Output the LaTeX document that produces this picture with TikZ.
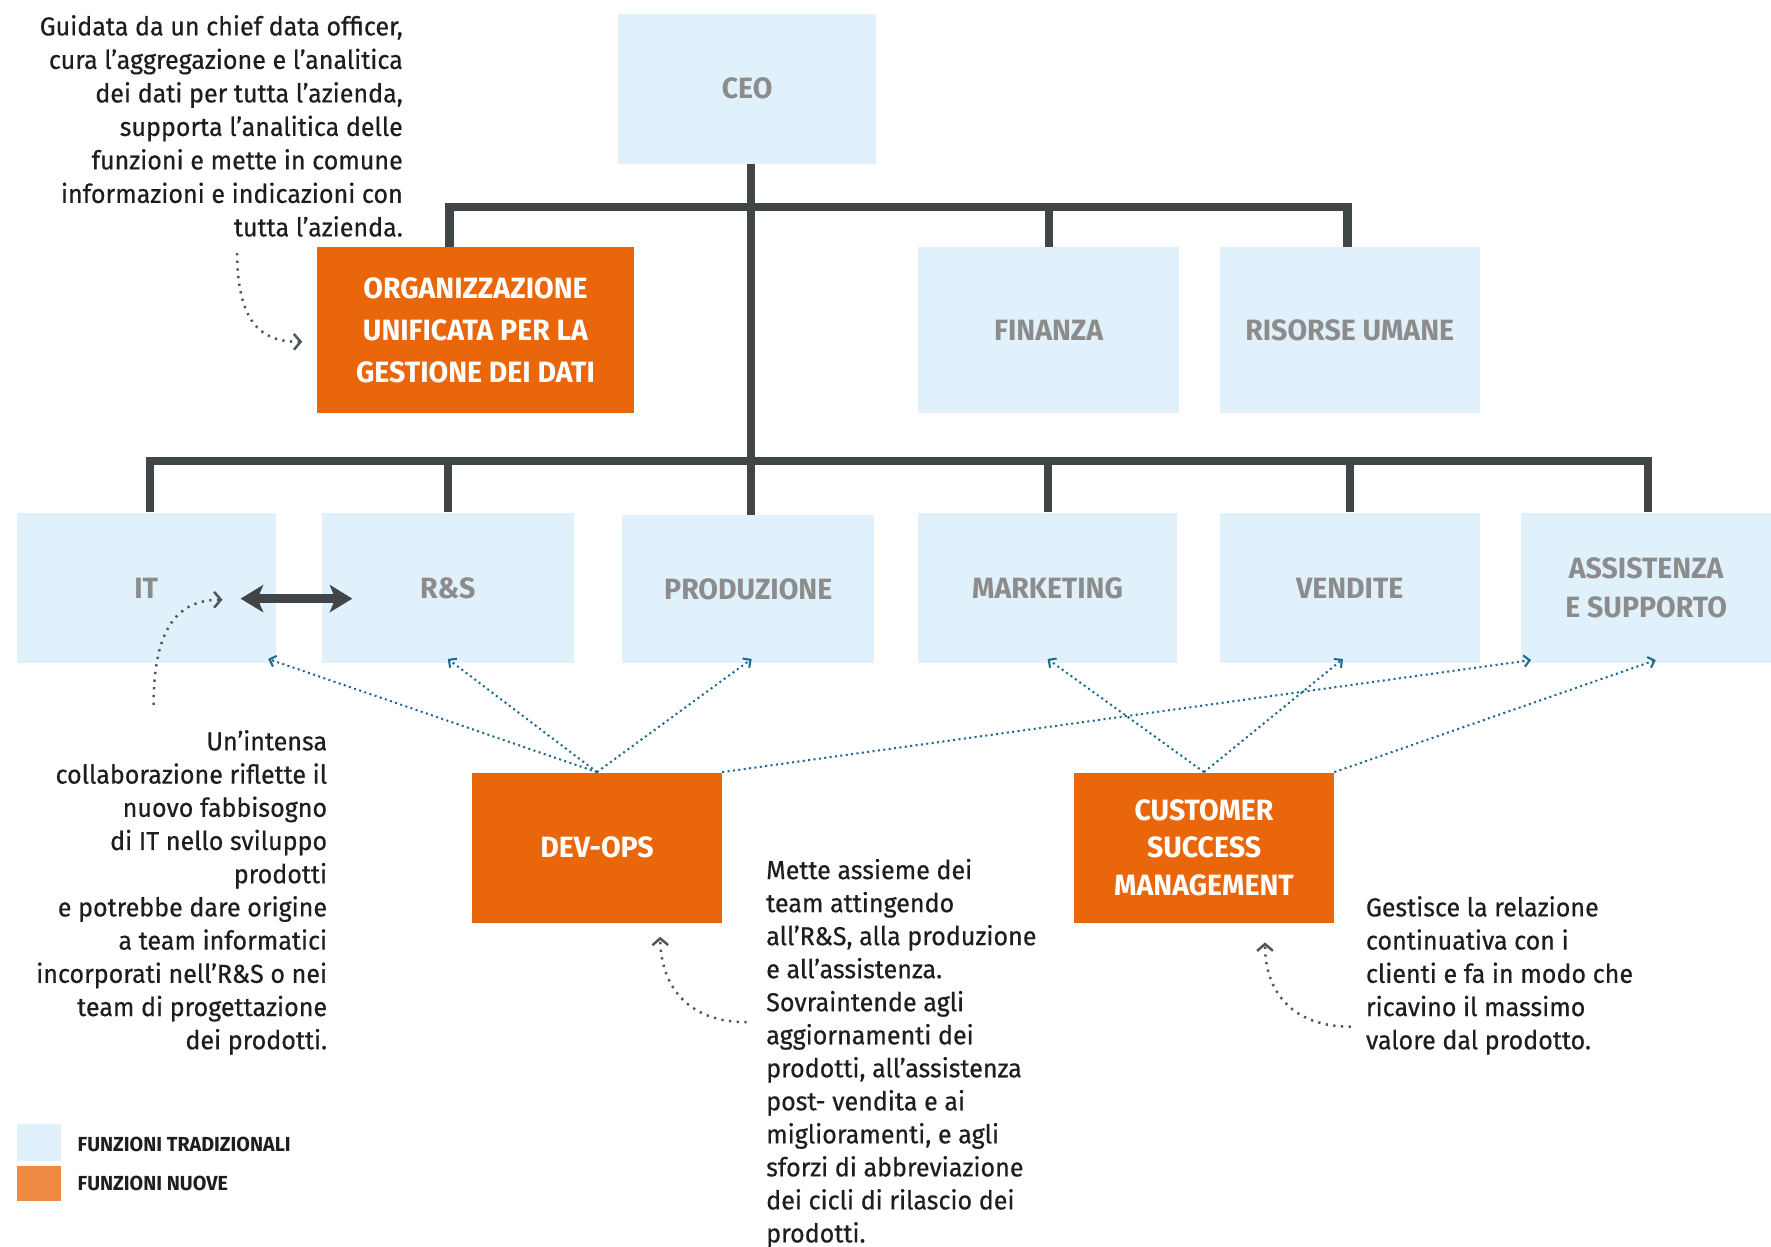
\documentclass[tikz,border=0pt]{standalone}
\usepackage{fontspec}
\setmainfont{Fira Sans}[FakeStretch=0.97]
\newfontfamily\notefont{Fira Sans}[FakeStretch=0.965,FakeBold=0.5]
\usetikzlibrary{arrows.meta,calc}
\definecolor{lblue}{HTML}{E1F1FB}
\definecolor{orng}{HTML}{E9660B}
\definecolor{lorng}{HTML}{EF8A45}
\definecolor{lgrey}{HTML}{8C8C8C}
\definecolor{dgrey}{HTML}{404548}
\definecolor{dotblue}{HTML}{1D6A8C}
\definecolor{txt}{HTML}{1E1E1E}
\definecolor{callg}{HTML}{50565A}
\begin{document}
\begin{tikzpicture}[x=0.5pt,y=-0.5pt,
 sz/.style 2 args={minimum width=#1*0.5pt, minimum height=#2*0.5pt},
 trad/.style={fill=lblue, inner sep=0pt, align=center, text=lgrey, font=\bfseries\fontsize{13}{17.5}\selectfont},
 newf/.style={fill=orng, inner sep=0pt, align=center, text=white, font=\bfseries\fontsize{13}{18.75}\selectfont},
 conn/.style={draw=dgrey, line width=3.6pt},
 link/.style={draw=dotblue, line width=0.9pt, dash pattern=on 0.9pt off 1.5pt, -{Straight Barb[length=2.5pt,width=5pt]}},
 callout/.style={draw=callg, line width=1.1pt, dash pattern=on 1pt off 2.4pt, -{Straight Barb[length=3pt,width=7pt]}},
 note/.style={inner sep=0pt, text=txt, font=\notefont\fontsize{11.5}{14.7}\selectfont}
]
\path[use as bounding box, fill=white] (0,0) rectangle (1568,1104);

% boxes
\node[trad, sz={229}{133}] (ceo) at (661.5,78.5) {CEO};
\node[newf, sz={280}{147}] (org) at (421,292.5) {ORGANIZZAZIONE\\UNIFICATA PER LA\\GESTIONE DEI DATI};
\node[trad, sz={231}{147}] (fin) at (928.5,292.5) {FINANZA};
\node[trad, sz={230}{147}] (hr) at (1195,292.5) {RISORSE UMANE};
\node[trad, sz={229}{133}] (it) at (129.5,520.5) {IT};
\node[trad, sz={223}{133}] (rs) at (396.5,520.5) {R\&S};
\node[trad, sz={223}{131}] (prod) at (662.5,521.5) {PRODUZIONE};
\node[trad, sz={229}{133}] (mkt) at (927.5,520.5) {MARKETING};
\node[trad, sz={230}{133}] (ven) at (1195,520.5) {VENDITE};
\node[trad, sz={221}{133}] (ass) at (1457.5,520.5) {ASSISTENZA\\E SUPPORTO};
\node[newf, sz={221}{133}] (dev) at (528.5,750.5) {DEV-OPS};
\node[newf, sz={230}{133}, font=\bfseries\fontsize{13}{16.5}\selectfont] (csm) at (1066,750.5) {CUSTOMER\\SUCCESS\\MANAGEMENT};

% tree connectors
\coordinate (u1) at (398,183);
\coordinate (u2) at (1193,183);
\coordinate (l1) at (133,408);
\coordinate (l2) at (1459,408);
\coordinate (tk) at (665,0);
\draw[conn] (org.north -| u1) -- (u1) -- (u2) -- (hr.north -| u2);
\draw[conn] (fin.north) -- (fin.north |- u1);
\draw[conn] (it.north -| l1) -- (l1) -- (l2) -- (ass.north -| l2);
\draw[conn] (rs.north) -- (rs.north |- l1);
\draw[conn] (mkt.north) -- (mkt.north |- l1);
\draw[conn] (ven.north) -- (ven.north |- l1);
\draw[conn] (ceo.south -| tk) -- (prod.north -| tk);

% double arrow IT <-> R&S
\coordinate (da1) at (213,530);
\coordinate (da2) at (312,530);
\draw[dgrey, line width=4pt, {Stealth[length=10pt,width=12pt,inset=2.5pt]}-{Stealth[length=10pt,width=12pt,inset=2.5pt]}] (da1) -- (da2);

% dotted links
\draw[link] (dev.north) -- ([xshift=-3.5pt,yshift=2pt]it.south east);
\draw[link] (dev.north) -- ([yshift=2pt]rs.south);
\draw[link] (dev.north) -- ([xshift=1.5pt,yshift=2pt]prod.south);
\draw[link] (dev.north east) -- ([xshift=4.5pt,yshift=1.5pt]ass.south west);
\draw[link] (csm.north) -- ([yshift=2pt]mkt.south);
\draw[link] (csm.north) -- ([xshift=-3pt,yshift=2pt]ven.south);
\draw[link] (csm.north east) -- ([xshift=4.25pt,yshift=1.5pt]ass.south);

% callouts
\coordinate (c1) at (210,224);
\draw[callout] (c1) .. controls (210,290) and (235,303) .. ([xshift=-6.5pt,yshift=-5pt]org.west);
\coordinate (c2) at (136,624);
\coordinate (c2e) at (197,531);
\draw[callout] (c2) .. controls (136,555) and (158,531) .. (c2e);
\coordinate (c3) at (661,905);
\draw[callout] (c3) .. controls (608,905) and (585,872) .. ([xshift=28pt,yshift=-6pt]dev.south);
\coordinate (c4) at (1196,909);
\draw[callout] (c4) .. controls (1143,909) and (1120,877) .. ([xshift=27pt,yshift=-8.5pt]csm.south);

% notes
\node[note, anchor=north east, align=right, font=\notefont\fontsize{11.5}{14.83}\selectfont] (t1) at (357,13)
 {Guidata da un chief data officer,\\cura l’aggregazione e l’analitica\\dei dati per tutta l’azienda,\\supporta l’analitica delle\\funzioni e mette in comune\\informazioni e indicazioni con\\tutta l’azienda.};
\node[note, anchor=north east, align=right] (t2) at (290,646)
 {Un’intensa\\collaborazione riflette il\\nuovo fabbisogno\\di IT nello sviluppo\\prodotti\\e potrebbe dare origine\\a team informatici\\incorporati nell’R\&S o nei\\team di progettazione\\dei prodotti.};
\node[note, anchor=north west, align=left, font=\notefont\fontsize{11.5}{14.62}\selectfont] (t3) at (678,760)
 {Mette assieme dei\\team attingendo\\all’R\&S, alla produzione\\e all’assistenza.\\Sovraintende agli\\aggiornamenti dei\\prodotti, all’assistenza\\post- vendita e ai\\miglioramenti, e agli\\sforzi di abbreviazione\\dei cicli di rilascio dei\\prodotti.};
\node[note, anchor=north west, align=left] (t4) at (1209,793)
 {Gestisce la relazione\\continuativa con i\\clienti e fa in modo che\\ricavino il massimo\\valore dal prodotto.};

% legend
\node[fill=lblue, inner sep=0pt, sz={39}{33}] (lg1) at (34.5,1011.5) {};
\node[fill=lorng, inner sep=0pt, sz={39}{31}] (lg2) at (34.5,1047.5) {};
\node[anchor=west, inner sep=0pt, text=txt, font=\bfseries\fontsize{9}{10}\selectfont] (lt1) at ([xshift=7pt,yshift=-0.7pt]lg1.east) {FUNZIONI TRADIZIONALI};
\node[anchor=west, inner sep=0pt, text=txt, font=\bfseries\fontsize{9}{10}\selectfont] (lt2) at ([xshift=7pt]lg2.east) {FUNZIONI NUOVE};
\end{tikzpicture}
\end{document}
